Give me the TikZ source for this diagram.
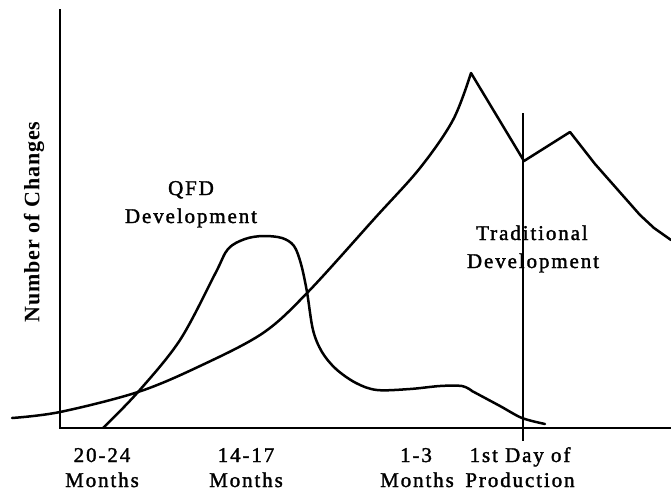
\documentclass[tikz,border=0pt]{standalone}
\usepackage{fontspec}
\setmainfont{Liberation Serif}[LetterSpace=9, FakeBold=1.6]
\newfontfamily\ylabelfont{Liberation Serif}[LetterSpace=4]
\begin{document}
\begin{tikzpicture}[x=1pt,y=-1pt,
  axis/.style={line width=2.3pt, line cap=rect},
  curve/.style={line width=2.5pt, line join=round, line cap=round},
  marker/.style={line width=1.3pt},
  lbl/.style={font=\fontsize{21}{24}\selectfont, anchor=base, inner sep=0pt},
  ylbl/.style={font=\ylabelfont\fontsize{22}{24}\selectfont\bfseries, rotate=90, inner sep=0pt}]
\useasboundingbox (0,0) rectangle (671,491);

% axes
\coordinate (ytop) at (60,10);
\coordinate (origin) at (60,428);
\coordinate (xend) at (671,428);
\draw[axis] (ytop) -- (origin) -- (xend);

% first day of production marker
\coordinate (dtop) at (523,113);
\coordinate (dbot) at (523,441);
\draw[marker] (dtop) -- (dbot);

% traditional development curve
\draw[curve] plot[smooth, tension=0.55] coordinates {(12,418) (60,412) (138,392) (200,366) (263,333) (308,292) (375,218) (420,168) (453,120) (471,73)}
  -- (524,161) -- (570,132) -- (595,164) -- (640,215) -- (654,228) -- (671,240);

% QFD development curve
\draw[curve] plot[smooth, tension=0.55] coordinates {(103,428) (138,392) (180,340) (215,274) (228,249) (245,239) (263,236) (282,238) (294,246) (301,264) (307,292) (313,330) (322,352) (336,369) (356,383) (377,390) (410,389) (440,386) (462,386) (472,391)}
  -- plot[smooth, tension=0.5] coordinates {(472,391) (500,406) (522,418) (545,424)};

% curve labels
\node[lbl] (qfd1) at (191,195) {QFD};
\node[lbl] (qfd2) at (191,223) {Development};
\node[lbl] (trad1) at (532,240) {Traditional};
\node[lbl] (trad2) at (533,268) {Development};

% axis labels
\node[ylbl] (ylab) at (34,222) {Number of Changes};
\node[lbl] (t1a) at (102,462) {20-24};
\node[lbl] (t1b) at (102,487) {Months};
\node[lbl] (t2a) at (246,462) {14-17};
\node[lbl] (t2b) at (246,487) {Months};
\node[lbl] (t3a) at (416,462) {1-3};
\node[lbl] (t3b) at (417,487) {Months};
\node[lbl] (t4a) at (520,462) {1st Day of};
\node[lbl] (t4b) at (520,487) {Production};
\end{tikzpicture}
\end{document}
